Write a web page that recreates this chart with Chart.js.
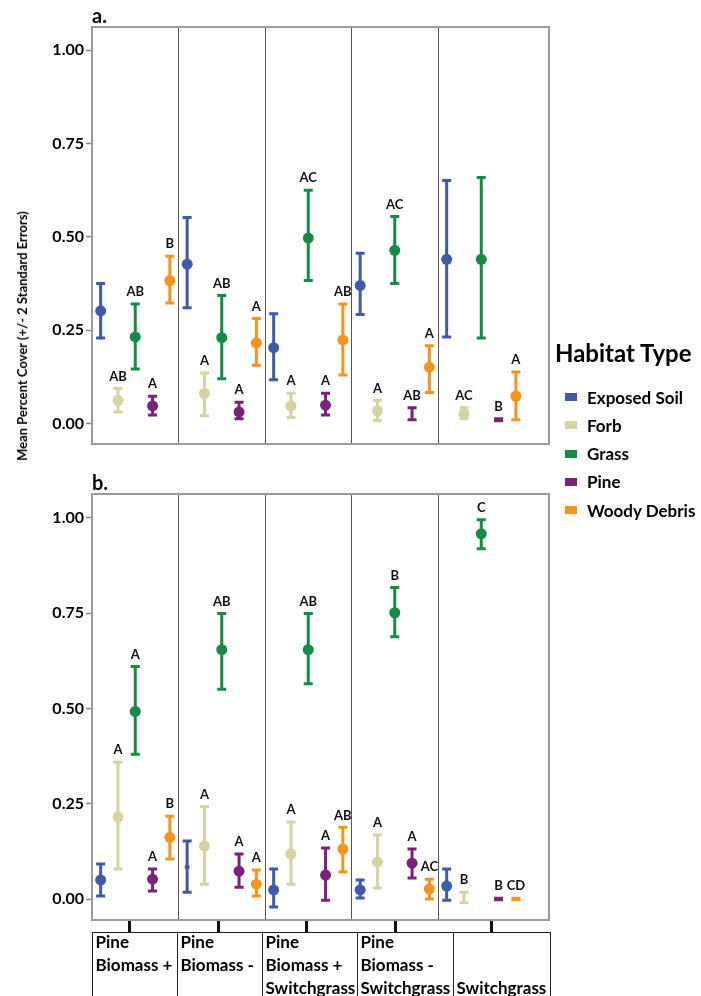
<!DOCTYPE html>
<html>
<head>
<meta charset="utf-8">
<script src="https://cdn.jsdelivr.net/npm/chart.js@4.4.0/dist/chart.umd.min.js"></script>
<style>
  body { margin: 0; background: #fff; }
  #page { position: relative; width: 701px; height: 996px; overflow: hidden; font-family: Lato, 'Open Sans', sans-serif; }
  #page canvas { position: absolute; left: 0; }
  #yTitle {
    position: absolute; left: 22px; top: 336px; white-space: nowrap;
    transform: translate(-50%, -50%) rotate(-90deg);
    font-weight: bold; font-size: 13px; color: #000;
  }
  #legend { position: absolute; left: 555px; top: 339px; color: #000; font-weight: bold; }
  #legend .title { font-size: 24px; height: 28px; line-height: 28px; margin-bottom: 16px; }
  #legend .item { display: flex; align-items: center; height: 28.25px; font-size: 17px; }
  #legend .swatch { width: 12px; height: 8px; margin: 0 10px 0 10px; }
</style>
</head>
<body>
<div id="page">
  <canvas id="chartA" width="701" height="470" style="top:0px"></canvas>
  <canvas id="chartB" width="701" height="529" style="top:467px"></canvas>
  <div id="yTitle">Mean Percent Cover (+/- 2 Standard Errors)</div>
  <div id="legend"></div>
</div>
<script>
// categories
const habitats = ['Exposed Soil', 'Forb', 'Grass', 'Pine', 'Woody Debris'];
const habitatColors = ['#3f5aa8', '#d6d2a2', '#148c46', '#7a2179', '#f7941d'];
const treatmentLines = [
  ['Pine', 'Biomass +'],
  ['Pine', 'Biomass -'],
  ['Pine', 'Biomass +', 'Switchgrass'],
  ['Pine', 'Biomass -', 'Switchgrass'],
  ['', '', 'Switchgrass'],
];
const yTicks = [0, 0.25, 0.5, 0.75, 1];

// panel a: rows = habitats, columns = treatments
const aMean = [
  [0.302, 0.427, 0.203, 0.370, 0.440],
  [0.062, 0.081, 0.047, 0.034, 0.026],
  [0.232, 0.230, 0.497, 0.464, 0.440],
  [0.047, 0.031, 0.049, 0.026, 0.010],
  [0.383, 0.216, 0.224, 0.151, 0.073],
];
const aLow = [
  [0.229, 0.310, 0.117, 0.292, 0.232],
  [0.031, 0.021, 0.016, 0.008, 0.013],
  [0.146, 0.120, 0.383, 0.375, 0.229],
  [0.023, 0.013, 0.023, 0.010, 0.007],
  [0.323, 0.156, 0.130, 0.083, 0.010],
];
const aHigh = [
  [0.375, 0.552, 0.294, 0.456, 0.651],
  [0.094, 0.135, 0.081, 0.062, 0.042],
  [0.320, 0.343, 0.625, 0.555, 0.659],
  [0.073, 0.057, 0.081, 0.042, 0.013],
  [0.448, 0.281, 0.320, 0.208, 0.138],
];
const aLetters = [
  ['', '', '', '', ''],
  ['AB', 'A', 'A', 'A', 'AC'],
  ['AB', 'AB', 'AC', 'AC', ''],
  ['A', 'A', 'A', 'AB', 'B'],
  ['B', 'A', 'AB', 'A', 'A'],
];

// panel b
const bMean = [
  [0.050, 0.084, 0.024, 0.024, 0.034],
  [0.215, 0.139, 0.118, 0.097, 0.005],
  [0.492, 0.654, 0.654, 0.751, 0.958],
  [0.052, 0.073, 0.063, 0.094, 0.000],
  [0.162, 0.039, 0.131, 0.026, 0.000],
];
const bLow = [
  [0.008, 0.018, -0.021, 0.003, -0.003],
  [0.079, 0.039, 0.039, 0.029, -0.010],
  [0.380, 0.550, 0.565, 0.688, 0.919],
  [0.021, 0.031, -0.003, 0.055, -0.002],
  [0.105, 0.008, 0.071, 0.000, -0.002],
];
const bHigh = [
  [0.092, 0.152, 0.079, 0.050, 0.079],
  [0.359, 0.243, 0.202, 0.168, 0.018],
  [0.610, 0.749, 0.749, 0.817, 0.995],
  [0.079, 0.118, 0.134, 0.131, 0.002],
  [0.217, 0.076, 0.188, 0.052, 0.002],
];
const bLetters = [
  ['', '', '', '', ''],
  ['A', 'A', 'A', 'A', 'B'],
  ['A', 'AB', 'AB', 'B', 'C'],
  ['A', 'A', 'A', 'A', 'B'],
  ['B', 'A', 'AB', 'AC', 'CD'],
];

// points drawn without the round marker [habitat, treatment]
const aNoDot = [[3, 3], [3, 4]];
const bNoDot = [[1, 4], [3, 4], [4, 4]];
const bSmallDot = [[0, 1]];

// layout of the x axis (facet units)
const xMax = 5.283;
const dividers = [1, 2, 3, 4];
const tickPos = [0.43, 1.46, 2.48, 3.51, 4.62];
const boxEdges = [0, 0.983, 1.965, 3.064, 4.173, 5.295];

const FONT = 'Lato, "Open Sans", sans-serif';

function makeDatasets(mean, low, high, letters, noDot, smallDot) {
  return habitats.map((name, h) => ({
    label: name,
    data: mean[h].map((v, t) => ({
      x: t + (h + 0.5) / 5, y: v, lo: low[h][t], hi: high[h][t], letter: letters[h][t],
    })),
    backgroundColor: habitatColors[h],
    borderColor: habitatColors[h],
    borderWidth: 0,
    pointRadius: (c) => {
      if (noDot.some(([hh, tt]) => hh === h && tt === c.dataIndex)) return 0;
      if (smallDot.some(([hh, tt]) => hh === h && tt === c.dataIndex)) return 2.5;
      return 5.5;
    },
    pointHoverRadius: 0,
    showLine: false,
  }));
}

const errorBars = {
  id: 'errorBars',
  beforeDatasetsDraw(chart) {
    const { ctx, chartArea: a } = chart;
    const x = chart.scales.x, y = chart.scales.y;
    ctx.save();
    ctx.strokeStyle = '#9a9a9a';
    ctx.lineWidth = 2;
    ctx.strokeRect(a.left, a.top, a.right - a.left, a.bottom - a.top);
    chart.data.datasets.forEach((ds) => {
      ctx.strokeStyle = ds.borderColor;
      ctx.lineWidth = 3;
      ds.data.forEach((p) => {
        const px = x.getPixelForValue(p.x);
        const y1 = y.getPixelForValue(p.lo);
        const y2 = y.getPixelForValue(p.hi);
        ctx.beginPath();
        ctx.moveTo(px, y1); ctx.lineTo(px, y2);
        ctx.moveTo(px - 4.5, y1); ctx.lineTo(px + 4.5, y1);
        ctx.moveTo(px - 4.5, y2); ctx.lineTo(px + 4.5, y2);
        ctx.stroke();
      });
    });
    ctx.restore();
  },
  afterDatasetsDraw(chart) {
    const { ctx } = chart;
    const x = chart.scales.x, y = chart.scales.y;
    ctx.save();
    ctx.font = 'bold 13px ' + FONT;
    ctx.fillStyle = '#111';
    ctx.textAlign = 'center';
    ctx.textBaseline = 'middle';
    chart.data.datasets.forEach((ds) => {
      ds.data.forEach((p) => {
        if (!p.letter) return;
        ctx.fillText(p.letter, x.getPixelForValue(p.x), y.getPixelForValue(p.hi) - 12);
      });
    });
    ctx.restore();
  },
};

const labelBoxes = {
  id: 'labelBoxes',
  afterDraw(chart) {
    if (!chart.options.plugins.labelBoxes.show) return;
    const { ctx } = chart;
    const x = chart.scales.x;
    const top = chart.scales.xt.bottom;
    const edges = boxEdges.map((v) => Math.round(x.getPixelForValue(v)) + 0.5);
    ctx.save();
    ctx.strokeStyle = '#222';
    ctx.lineWidth = 1;
    ctx.beginPath();
    ctx.moveTo(edges[0], top + 0.5);
    ctx.lineTo(edges[edges.length - 1], top + 0.5);
    edges.forEach((e) => { ctx.moveTo(e, top); ctx.lineTo(e, chart.height); });
    ctx.stroke();
    ctx.font = 'bold 17px ' + FONT;
    ctx.fillStyle = '#000';
    ctx.textAlign = 'left';
    ctx.textBaseline = 'alphabetic';
    treatmentLines.forEach((lines, i) => {
      lines.forEach((s, j) => ctx.fillText(s, edges[i] + 3, top + 16 + j * 23));
    });
    ctx.restore();
  },
};

function panelChart(id, title, datasets, bottom) {
  return new Chart(document.getElementById(id), {
    type: 'scatter',
    data: { datasets },
    options: {
      responsive: false,
      animation: false,
      events: [],
      layout: { padding: { left: 0, right: 152, top: 0, bottom } },
      plugins: {
        legend: { display: false },
        tooltip: { enabled: false },
        title: {
          display: true, text: title, align: 'start', fullSize: false, color: '#000',
          font: { family: FONT, size: 20, weight: 'bold', lineHeight: 1.15 },
          padding: { top: 5, bottom: -1 },
        },
        labelBoxes: { show: id === 'chartB' },
      },
      scales: {
        x: {
          type: 'linear', min: 0, max: xMax, position: 'bottom',
          afterBuildTicks: (s) => { s.ticks = dividers.map((v) => ({ value: v })); },
          afterFit: (s) => { s.height = 0; },
          ticks: { display: false },
          grid: { drawTicks: false, color: '#555', lineWidth: 1 },
          border: { display: false },
        },
        xt: {
          type: 'linear', min: 0, max: xMax, position: 'bottom',
          display: id === 'chartB',
          afterBuildTicks: (s) => { s.ticks = tickPos.map((v) => ({ value: v })); },
          afterFit: (s) => { s.height = 12; },
          ticks: { display: false },
          grid: { drawOnChartArea: false, tickLength: 12, tickWidth: 3, tickColor: '#111' },
          border: { display: false },
        },
        y: {
          min: -0.055, max: 1.0625,
          afterBuildTicks: (s) => { s.ticks = yTicks.map((v) => ({ value: v })); },
          afterFit: (s) => { s.width = 92; },
          ticks: {
            callback: (v) => v.toFixed(2), color: '#000', padding: 2,
            font: { family: FONT, size: 16, weight: 'bold' },
          },
          grid: { drawOnChartArea: false, tickLength: 6, tickColor: '#888', tickWidth: 1.5 },
          border: { display: false },
        },
      },
    },
    plugins: [errorBars, labelBoxes],
  });
}

panelChart('chartA', 'a.', makeDatasets(aMean, aLow, aHigh, aLetters, aNoDot, []), 14);
panelChart('chartB', 'b.', makeDatasets(bMean, bLow, bHigh, bLetters, bNoDot, bSmallDot), 64);

// legend
const legend = document.getElementById('legend');
legend.innerHTML = '<div class="title">Habitat Type</div>' + habitats.map((h, i) =>
  '<div class="item"><span class="swatch" style="background:' + habitatColors[i] + '"></span>' + h + '</div>'
).join('');
</script>
</body>
</html>
